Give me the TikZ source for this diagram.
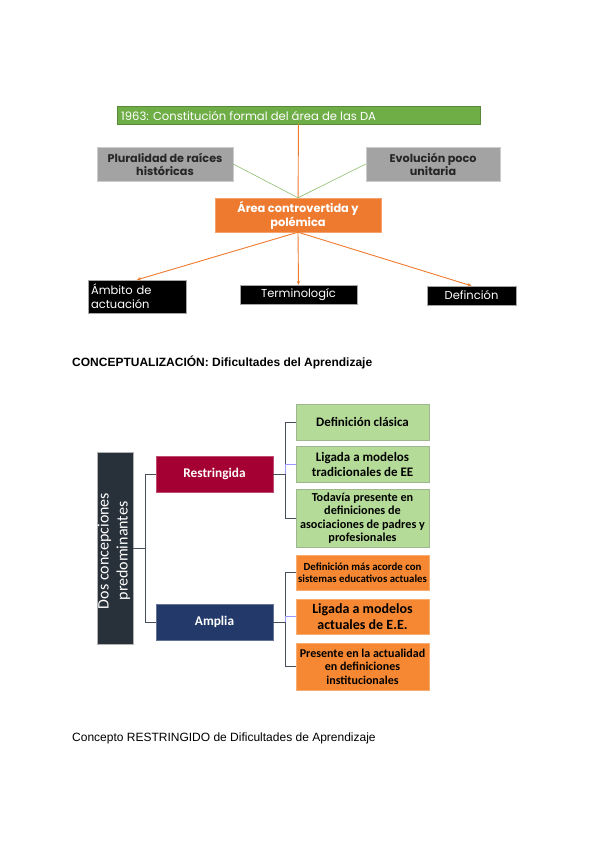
\documentclass[tikz,border=0pt]{standalone}
\usepackage{fontspec}
\setmainfont{Liberation Sans}
\newfontfamily\gothic{Poppins}
\newfontfamily\calib{Carlito}
\usetikzlibrary{arrows.meta}
\definecolor{barg}{HTML}{6FAD47}
\definecolor{grayb}{HTML}{A3A3A3}
\definecolor{orng}{HTML}{EE7A30}
\definecolor{crim}{HTML}{A50034}
\definecolor{navy}{HTML}{22396A}
\definecolor{darkb}{HTML}{283039}
\definecolor{lgreen}{HTML}{B4DC98}
\definecolor{lorng}{HTML}{F68833}
\definecolor{conn}{HTML}{46505A}
\tikzset{
  graybox/.style={draw=gray!40, fill=grayb, minimum width=136pt, minimum height=34pt, align=center, inner sep=1pt, font=\gothic\bfseries\fontsize{11.2}{13}\selectfont, text=black!85},
  blackbox/.style={draw=gray!70, fill=black, text=white, inner sep=2pt, font=\gothic\fontsize{11.5}{13}\selectfont},
  oarrow/.style={draw=orng, line width=0.9pt, -{Stealth[length=4pt,width=3.5pt]}},
  glink/.style={draw=barg!80, line width=0.6pt},
  tree/.style={draw=conn, line width=0.8pt},
  gbox/.style={draw=lgreen!60!gray, fill=lgreen, minimum width=133pt, align=center, inner sep=1pt, text=black, font=\calib\bfseries\fontsize{13}{15}\selectfont},
  obox/.style={draw=lorng!70!white, fill=lorng, minimum width=133pt, align=center, inner sep=1pt, text=black, font=\calib\bfseries\fontsize{12}{13.5}\selectfont},
  catbox/.style={minimum width=117pt, minimum height=36pt, text=white, font=\calib\bfseries\fontsize{13.3}{15}\selectfont}
}
\begin{document}
\begin{tikzpicture}[x=1pt,y=-1pt]
\useasboundingbox (0,0) rectangle (600,848);
% top diagram
\node[draw=barg!80!black, fill=barg, minimum width=363pt, minimum height=18pt, inner sep=0pt] (bar) at (298.5,115) {};
\node[anchor=west, text=white, font=\gothic\fontsize{11.6}{13}\selectfont, inner sep=0pt] (bart) at (121,115.5) {1963: Constitución formal del área de las DA};
\node[graybox] (plur) at (165,164) {Pluralidad de raíces\\históricas};
\node[graybox, minimum width=134pt] (evol) at (433,164) {Evolución poco\\unitaria};
\node[draw=orng!70!white, fill=orng, minimum width=166pt, minimum height=34pt, align=center, text=white, inner sep=1pt, font=\gothic\bfseries\fontsize{11.4}{14}\selectfont] (area) at (298,215) {Área controvertida y\\polémica};
\draw[draw=orng, line width=0.9pt] (bar) -- (area);
\draw[glink] (plur.east) -- (area.north);
\draw[glink] (evol.west) -- (area.north);
\node[blackbox, minimum width=98pt, minimum height=33pt, align=left, text width=92pt, font=\gothic\fontsize{11.5}{14}\selectfont] (amb) at (137,296.5) {Ámbito de\\actuación};
\node[blackbox, minimum width=117pt, minimum height=19pt] (term) at (298.5,294.5) {Terminologíc};
\node[blackbox, minimum width=89pt, minimum height=19pt] (defi) at (471.5,295.5) {Definción};
\draw[oarrow] (area.south) -- (amb.north);
\draw[oarrow] (area.south) -- (term.north);
\draw[oarrow] (area.south) -- (defi.north);
% title
\node[anchor=west, inner sep=0pt, font=\bfseries\fontsize{12}{14}\selectfont] (title) at (72,362) {CONCEPTUALIZACIÓN: Dificultades del Aprendizaje};
% second diagram
\node[fill=darkb, draw=gray!60, minimum width=36pt, minimum height=192pt, inner sep=0pt] (dos) at (115,548) {};
\node[rotate=90, text=white, align=center, font=\calib\fontsize{16}{19}\selectfont] (dost) at (114,551) {Dos concepciones\\predominantes};
\node[catbox, fill=crim, draw=crim!70!white] (res) at (214.5,474) {Restringida};
\node[catbox, fill=navy, draw=navy!70!white] (amp) at (214.5,622) {Amplia};
\draw[tree] (dos.east) -- ++(12,0) |- (res.west);
\draw[tree] (dos.east) -- ++(12,0) |- (amp.west);
\node[gbox, minimum height=36pt] (g1) at (362.5,422) {Definición clásica};
\node[gbox, minimum height=36pt] (g2) at (362.5,464) {Ligada a modelos\\tradicionales de EE};
\node[gbox, minimum height=58pt, font=\calib\bfseries\fontsize{12.2}{13.5}\selectfont] (g3) at (362.5,518) {Todavía presente en\\definiciones de\\asociaciones de padres y\\profesionales};
\node[obox, minimum height=35pt, font=\calib\bfseries\fontsize{10.8}{12.5}\selectfont] (o1) at (362.5,572.5) {Definición más acorde con\\sistemas educativos actuales};
\node[obox, minimum height=35pt, font=\calib\bfseries\fontsize{14}{16}\selectfont] (o2) at (362.5,616.5) {Ligada a modelos\\actuales de E.E.};
\node[obox, minimum height=47pt, font=\calib\bfseries\fontsize{12}{13.5}\selectfont] (o3) at (362.5,666.5) {Presente en la actualidad\\en definiciones\\institucionales};
\draw[tree] (res.east) -- ++(12,0) |- (g1.west);
\draw[tree] (res.east) -- ++(12,0) |- (g3.west);
\draw[draw=blue!40, line width=0.6pt] (res.east) ++(12,0) |- (g2.west);
\draw[tree] (amp.east) -- ++(12,0) |- (o1.west);
\draw[tree] (amp.east) -- ++(12,0) |- (o3.west);
\draw[draw=blue!40, line width=0.6pt] (amp.east) ++(12,0) |- (o2.west);
% caption
\node[anchor=west, inner sep=0pt, font=\fontsize{12}{14}\selectfont] (cap) at (72,738) {Concepto RESTRINGIDO de Dificultades de Aprendizaje};
\end{tikzpicture}
\end{document}
